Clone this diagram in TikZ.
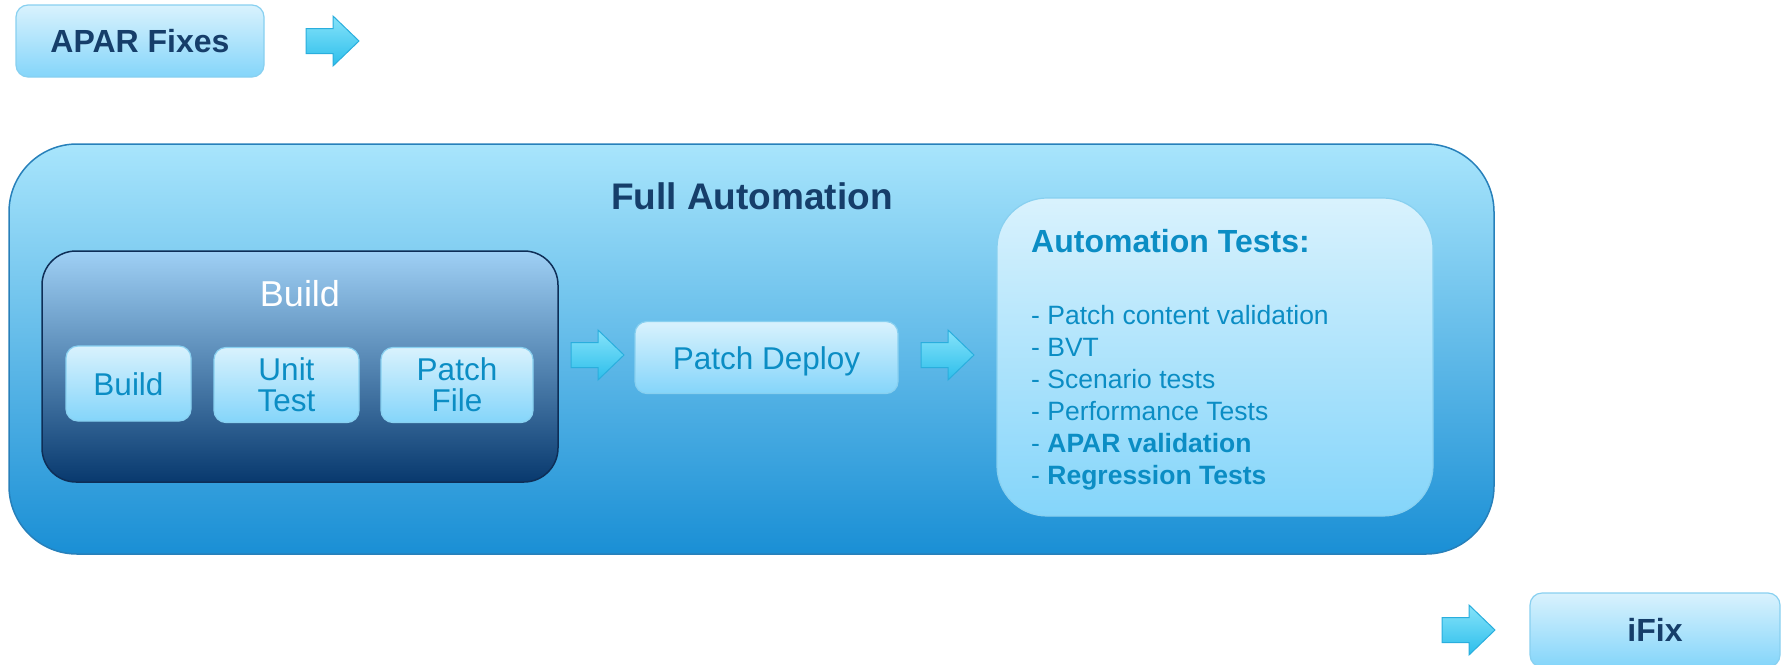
\documentclass[tikz,border=0pt]{standalone}
\usepackage{fontspec}
\setmainfont{Liberation Sans}
\definecolor{navy}{HTML}{163E6A}
\definecolor{tealtext}{HTML}{0B8DC4}
\definecolor{lightedge}{HTML}{88D0F0}
\definecolor{lighttop}{HTML}{D9F2FD}
\definecolor{lightbot}{HTML}{84D5FA}
\definecolor{outertop}{HTML}{A8E5FC}
\definecolor{outerbot}{HTML}{1A8FD5}
\definecolor{outeredge}{HTML}{2780BA}
\definecolor{buildtop}{HTML}{9FD0F5}
\definecolor{buildbot}{HTML}{08396E}
\definecolor{buildedge}{HTML}{0E2E57}
\definecolor{arrtop}{HTML}{86E3FA}
\definecolor{arrbot}{HTML}{2CBEEB}
\definecolor{arredge}{HTML}{2AAEDD}
\tikzset{bigarrow/.pic={
  \draw[blockarr] (0,-12.5) -- (27,-12.5) -- (27,-25) -- (53,0) -- (27,25) -- (27,12.5) -- (0,12.5) -- cycle;
}}
\begin{document}
\begin{tikzpicture}[x=1pt,y=-1pt,
  lightbox/.style={draw=lightedge, line width=1.2pt, top color=lighttop, bottom color=lightbot, rounded corners=12pt, inner sep=0pt},
  blockarr/.style={draw=arredge, line width=1pt, top color=arrtop, bottom color=arrbot},
  stepname/.style={lightbox, text=tealtext, font=\fontsize{31.5}{31}\selectfont, align=center},
  navylabel/.style={text=navy, font=\fontsize{32}{38}\selectfont\bfseries, text height=23pt, text depth=0pt},
  listitem/.style={anchor=base west, inner sep=0pt, text=tealtext, font=\fontsize{26.5}{32}\selectfont}]
\useasboundingbox (0,0) rectangle (1783,664);

% top and bottom boxes
\node[lightbox, navylabel, minimum width=248pt, minimum height=72pt] (apar) at (140,41) {APAR Fixes};
\pic (arrA) at (306,41) {bigarrow};
\node[lightbox, navylabel, minimum width=250pt, minimum height=74pt] (ifix) at (1655,630) {iFix};
\pic (arrD) at (1442,630) {bigarrow};

% full automation frame
\node[draw=outeredge, line width=1.5pt, top color=outertop, bottom color=outerbot, rounded corners=68pt,
  minimum width=1485pt, minimum height=410pt] (full) at (751.5,349) {};
\node[text=navy, font=\fontsize{37}{44}\selectfont\bfseries] (fulltitle) at (752,196) {Full Automation};

% build group
\node[draw=buildedge, line width=1.5pt, top color=buildtop, bottom color=buildbot, rounded corners=34pt,
  minimum width=516pt, minimum height=231pt] (buildgrp) at (300,366.5) {};
\node[text=white, font=\fontsize{36}{42}\selectfont] (buildtitle) at (300,294) {Build};
\node[stepname, minimum width=125pt, minimum height=75pt, text height=23pt, text depth=0pt] (build) at (128.5,383.5) {Build};
\node[stepname, minimum width=145pt, minimum height=75pt] (unit) at (286.5,385) {Unit\\Test};
\node[stepname, minimum width=152pt, minimum height=75pt] (patchfile) at (457,385) {Patch\\File};

\pic (arrB) at (571,355) {bigarrow};
\node[stepname, minimum width=263pt, minimum height=72pt, text height=23pt, text depth=0pt] (deploy) at (766.5,357.5) {Patch Deploy};
\pic (arrC) at (921,355) {bigarrow};

% automation tests
\node[lightbox, rounded corners=50pt, minimum width=436pt, minimum height=318pt] (tests) at (1215,357) {};
\node[anchor=base west, inner sep=0pt, text=tealtext, font=\fontsize{32}{38}\selectfont\bfseries] (teststitle) at (1031,252) {Automation Tests:};
\foreach \txt [count=\i] in {Patch content validation, BVT, Scenario tests, Performance Tests, \textbf{APAR validation}, \textbf{Regression Tests}}
  \node[listitem] (item\i) at (1031,{324+32*(\i-1)}) {- \txt};

\end{tikzpicture}
\end{document}
